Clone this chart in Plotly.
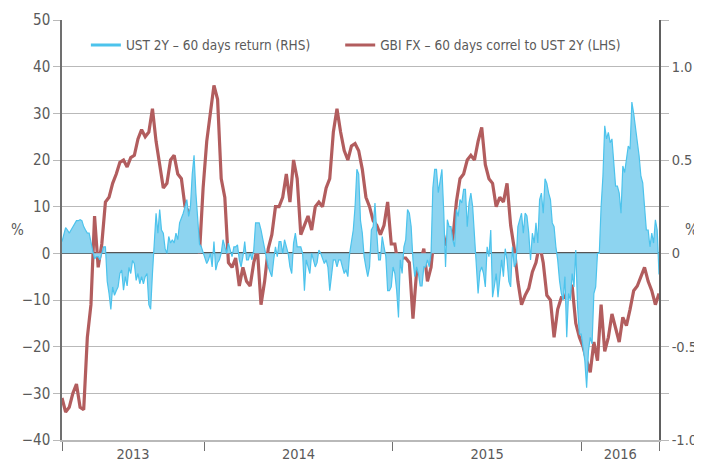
import pandas as pd
import plotly.graph_objects as go

# weekly observation dates for the correlation line (Apr 2013 - May 2016)
dates_w = pd.date_range("2013-04-01", periods=166, freq="7D")
# half-weekly observation dates for the UST 2Y return area
dates_h = pd.date_range("2013-04-01", periods=331, freq="84h")

# GBI FX - 60 days correl to UST 2Y (LHS, %)
gbi_fx = [
    -31, -34, -33, -30, -28, -33, -33.5, -18, -11, 8,
    -3, 2, 11, 12, 15, 17, 19.5, 20, 18.5, 20.5,
    21, 24.5, 26.5, 25, 26, 31, 24, 19, 14, 15,
    20, 21, 17, 16, 10, 9, 8, 3, 0, 14,
    24, 30, 36, 33, 16, 12, -2, -3, -1, -7,
    -3, -6, -7, -2, 1, -11, -6, 1, 4, 10,
    10, 12, 17, 11, 20, 16, 4, 6, 8, 5,
    10, 11, 10, 14, 16, 26, 31, 26, 22, 20,
    23, 23.5, 22, 18, 12, 10, 7, 6, 4, 6,
    11, 2, 2, -3, -1, -1, -2, -14, -4, -2,
    1, -6, -3, 5, 5, 5.5, 2, 1.5, 3, 11,
    16, 17, 20, 21, 20, 24, 27, 19, 16, 15,
    10, 12, 11, 15, 6, 1, -6, -11, -9, -7.5,
    -4, -2, 2, -2, -9, -10, -18, -12, -9.5, -9.5,
    -7, -7, -15, -18, -20, -23, -25.5, -19, -23, -11,
    -21, -18, -13, -16, -19, -13.7, -15.5, -12, -8, -7,
    -5, -3, -6, -8, -11, -8.6,
]

# UST 2Y - 60 days return (RHS)
ust_2y = [
    0.063, 0.100, 0.138, 0.125, 0.108, 0.125, 0.143, 0.163, 0.175, 0.175,
    0.180, 0.175, 0.143, 0.125, 0.108, 0.108, 0.050, 0.013, -0.030, -0.018,
    -0.018, -0.035, 0.000, 0.035, 0.035, -0.150, -0.215, -0.300, -0.180, -0.225,
    -0.200, -0.180, -0.108, -0.090, -0.198, -0.125, -0.175, -0.075, -0.108, -0.038,
    -0.055, -0.145, -0.108, -0.163, -0.125, -0.163, -0.125, -0.108, -0.275, -0.300,
    -0.108, 0.075, 0.215, 0.108, 0.235, 0.125, 0.108, 0.025, 0.000, 0.090,
    0.055, 0.073, 0.055, 0.108, 0.073, 0.163, 0.188, 0.215, 0.250, 0.288,
    0.198, 0.250, 0.425, 0.525, 0.325, 0.200, 0.050, 0.035, 0.000, -0.035,
    -0.055, -0.035, 0.000, -0.073, 0.063, -0.090, -0.050, -0.035, 0.000, 0.073,
    0.035, 0.000, 0.055, 0.018, -0.018, 0.035, 0.035, 0.045, -0.035, -0.073,
    -0.018, 0.063, -0.035, -0.035, 0.000, -0.035, 0.018, 0.163, 0.163, 0.163,
    0.125, 0.075, 0.025, -0.035, -0.073, -0.100, -0.125, -0.035, 0.035, -0.018,
    0.063, 0.063, 0.000, 0.073, 0.035, 0.000, -0.073, -0.108, 0.055, 0.108,
    0.035, 0.035, 0.035, 0.000, -0.200, -0.035, -0.073, -0.108, 0.000, -0.035,
    -0.073, -0.050, 0.018, 0.000, -0.035, -0.055, -0.035, -0.075, -0.200, -0.100,
    -0.035, -0.035, -0.073, -0.035, -0.035, -0.073, -0.108, -0.088, -0.125, 0.000,
    0.075, 0.125, 0.250, 0.450, 0.425, 0.175, 0.108, -0.018, -0.075, -0.125,
    -0.073, 0.125, 0.143, 0.270, 0.108, -0.035, -0.035, 0.090, 0.035, -0.018,
    -0.200, -0.200, -0.180, -0.073, -0.108, -0.200, -0.343, -0.035, -0.108, 0.035,
    0.073, 0.235, 0.215, 0.143, -0.035, -0.125, -0.073, -0.108, -0.175, -0.175,
    -0.073, -0.073, -0.035, -0.073, 0.000, 0.350, 0.450, 0.450, 0.325, 0.395,
    0.450, 0.225, -0.073, 0.180, 0.143, 0.143, 0.073, 0.035, 0.235, 0.198,
    0.288, 0.270, 0.343, 0.343, 0.143, 0.270, 0.323, 0.250, 0.073, -0.075,
    -0.215, -0.100, -0.073, -0.108, -0.180, 0.035, -0.018, 0.125, -0.235, -0.175,
    -0.108, -0.235, -0.125, -0.035, -0.125, 0.025, -0.035, -0.150, -0.180, 0.035,
    -0.073, -0.050, 0.143, 0.180, 0.215, 0.108, 0.215, 0.200, 0.108, -0.035,
    0.108, 0.055, 0.163, 0.055, 0.288, 0.323, 0.215, 0.400, 0.375, 0.323,
    0.288, 0.163, 0.143, 0.035, -0.035, -0.145, -0.215, -0.250, -0.125, -0.450,
    -0.215, -0.250, -0.108, -0.180, 0.018, -0.288, -0.433, -0.433, -0.500, -0.575,
    -0.720, -0.523, -0.450, -0.485, -0.215, -0.180, 0.000, 0.000, 0.250, 0.413,
    0.683, 0.613, 0.648, 0.593, 0.613, 0.503, 0.360, 0.360, 0.323, 0.215,
    0.468, 0.433, 0.503, 0.575, 0.558, 0.810, 0.750, 0.683, 0.593, 0.523,
    0.413, 0.378, 0.250, 0.125, 0.125, 0.035, 0.108, 0.055, 0.180, 0.125,
    -0.113,
]

years = ["2013", "2014", "2015", "2016"]
left_ticks = [-40, -30, -20, -10, 0, 10, 20, 30, 40, 50]
right_ticks = [-1.0, -0.75, -0.5, -0.25, 0, 0.25, 0.5, 0.75, 1.0, 1.25]
right_text = ["-1.0", "", "-0.5", "", "0", "", "0.5", "", "1.0", ""]

FONT = "DejaVu Sans Condensed, DejaVu Sans, sans-serif"
TXT = "#5a5a5a"
GRID = "#b9b9b9"
BLUE = "#4cc3ec"
BLUE_FILL = "#8dd4f0"
RED = "#b25d5e"

start, end = dates_w[0], dates_w[-1]
bounds = [pd.Timestamp(f"{y}-01-01") for y in years[1:]]
seg_lo = [start] + bounds
seg_hi = bounds + [end]
label_pos = [lo + (hi - lo) / 2 for lo, hi in zip(seg_lo, seg_hi)]

fig = go.Figure()
fig.add_trace(go.Scatter(
    x=dates_h, y=ust_2y, yaxis="y2", mode="lines",
    line=dict(color=BLUE, width=1.2), fill="tozeroy", fillcolor=BLUE_FILL,
    showlegend=False, hoverinfo="skip",
))
fig.add_trace(go.Scatter(
    x=dates_w, y=gbi_fx, yaxis="y", mode="lines",
    line=dict(color=RED, width=3.2), showlegend=False,
))
# legend entries
fig.add_trace(go.Scatter(x=[None], y=[None], mode="lines",
                         line=dict(color=BLUE, width=3), legend="legend",
                         name="UST 2Y \u2013 60 days return (RHS)"))
fig.add_trace(go.Scatter(x=[None], y=[None], mode="lines",
                         line=dict(color=RED, width=3), legend="legend2",
                         name="GBI FX \u2013 60 days correl to UST 2Y (LHS)"))

leg_common = dict(orientation="h", yanchor="middle", xanchor="left",
                  bgcolor="rgba(255,255,255,0)", itemwidth=30,
                  font=dict(size=13.5, color=TXT))

# the page body adds an 8px offset, so the figure is 8px smaller each way
fig.update_layout(
    template="none",
    width=694, height=453, autosize=False,
    margin=dict(l=54, r=43, t=12, b=21, autoexpand=False),
    paper_bgcolor="white", plot_bgcolor="white",
    font=dict(family=FONT, size=15, color=TXT),
    xaxis=dict(
        type="date", range=[start, end], automargin=False,
        tickmode="array", tickvals=label_pos, ticktext=years,
        ticks="", showgrid=False, zeroline=False, ticklabelstandoff=0,
        showline=True, linecolor=GRID, linewidth=1.5,
        tickfont=dict(size=14.5, color=TXT),
        minor=dict(tickmode="array", tickvals=[start] + bounds + [end],
                   ticks="outside", ticklen=9, tickcolor="#707070",
                   tickwidth=1, showgrid=False),
    ),
    yaxis=dict(
        range=[-40, 50], tickmode="array", tickvals=left_ticks,
        automargin=False,
        showgrid=True, gridcolor=GRID, gridwidth=1,
        zeroline=True, zerolinecolor="#555555", zerolinewidth=1.5,
        showline=True, linecolor="#707070", linewidth=1.5,
        ticks="outside", ticklen=7, tickcolor=GRID,
        tickfont=dict(size=15, color=TXT),
    ),
    yaxis2=dict(
        range=[-1.0, 1.25], overlaying="y", side="right",
        automargin=False,
        tickmode="array", tickvals=right_ticks, ticktext=right_text,
        showgrid=False, zeroline=False,
        showline=True, linecolor="#606060", linewidth=1.5,
        ticks="outside", ticklen=8, tickcolor=GRID,
        tickfont=dict(size=14.5, color=TXT),
    ),
    legend=dict(x=0.04, y=0.94, **leg_common),
    legend2=dict(x=0.466, y=0.94, **leg_common),
    annotations=[
        dict(text="%", xref="paper", yref="paper", x=-0.074, y=0.5,
             xanchor="center", yanchor="middle",
             showarrow=False, font=dict(size=15, color=TXT)),
        dict(text="%", xref="paper", yref="paper", x=1.055, y=0.5,
             xanchor="center", yanchor="middle",
             showarrow=False, font=dict(size=15, color=TXT)),
    ],
)

fig.write_html("out.html")
